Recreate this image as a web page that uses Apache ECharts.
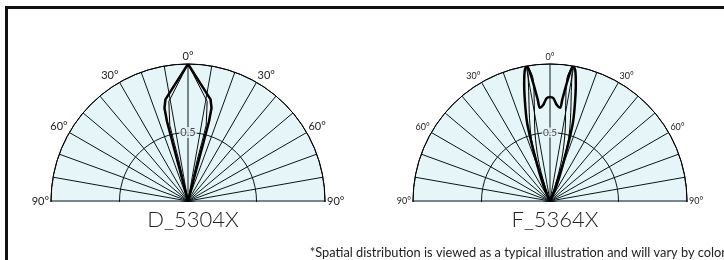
<!DOCTYPE html>
<html>
<head>
<meta charset="utf-8">
<script src="https://cdn.jsdelivr.net/npm/echarts@6/dist/echarts.min.js"></script>
<style>
  body { margin: 0; background: #fff; }
  #wrap { position: relative; width: 724px; height: 260px; }
  #frame { position: absolute; left: 5px; top: 6px; right: 0; bottom: 0; border-top: 3px solid #111; border-left: 3px solid #111; }
  #chart { position: absolute; left: 0; top: 0; width: 724px; height: 260px; }
</style>
</head>
<body>
<div id="wrap">
  <div id="frame"></div>
  <div id="chart"></div>
</div>
<script>
// 标签
const chartNames = ['D_5304X', 'F_5364X']
const ringLabel = '0.5'
const note = '*Spatial distribution is viewed as a typical illustration and will vary by color'

// D_5304X 粗线 / 细线 (角度, 相对强度)
const dThickAngle = [-15, -14.8, -14.2, -12.5, 0, 12.5, 14.2, 14.8, 15]
const dThickR = [0, 0.6, 0.7, 0.76, 1.0, 0.76, 0.7, 0.6, 0]
const dThinAngle = [-12, -12.7, -13.3, -13.5, -10.9, 0, 10.9, 13.5, 13.3, 12.7, 12]
const dThinR = [0, 0.31, 0.44, 0.57, 0.74, 1.0, 0.74, 0.57, 0.44, 0.31, 0]

// F_5364X 粗线 / 细线
const fThickAngle = [-25, -23.3, -18.9, -16.5, -14.8, -12.5, -11.0, -9.8, -9.0, -8.0, -6.9, -6.2, -4.1, -1.9, 0,
  1.9, 4.1, 6.2, 6.9, 8.0, 9.0, 9.8, 11.0, 12.5, 14.8, 16.5, 18.9, 23.3, 25]
const fThickR = [0, 0.116, 0.323, 0.578, 0.702, 0.871, 0.968, 1.0, 0.962, 0.858, 0.745, 0.684, 0.702, 0.75, 0.76,
  0.75, 0.702, 0.684, 0.745, 0.858, 0.962, 1.0, 0.968, 0.871, 0.702, 0.578, 0.323, 0.116, 0]
const fThinAngle = [-18.4, -18.4, -18.4, -16.7, -14.0, -11.0, -9.8, -9.5, -7.9, -9.3, -12.4, -15.8, -18.4, 0,
  18.4, 15.8, 12.4, 9.3, 7.9, 9.5, 9.8, 11.0, 14.0, 16.7, 18.4, 18.4, 18.4]
const fThinR = [0, 0.158, 0.316, 0.47, 0.618, 0.815, 0.944, 1.0, 0.909, 0.709, 0.512, 0.312, 0.126, 0,
  0.126, 0.312, 0.512, 0.709, 0.909, 1.0, 0.944, 0.815, 0.618, 0.47, 0.316, 0.158, 0]

// 半透明填充, 让网格线透出来
const fill = 'rgba(47,172,197,0.12)'
const labelBg = '#e6f5f8'
const centers = [[188, 201], [550, 201]]
const R = 137
const labelSizes = [11, 9]

const chart = echarts.init(document.getElementById('chart'))

const pairs = (rs, as) => rs.map((r, i) => [r, as[i]])

const angleAxis = (i) => ({
    polarIndex: i,
    type: 'value',
    min: -180,
    max: 180,
    interval: 10,
    startAngle: 270,
    clockwise: true,
    axisLine: { show: true, lineStyle: { color: '#000', width: 1 } },
    axisTick: { show: false },
    axisLabel: {
        margin: 2,
        fontSize: labelSizes[i],
        fontFamily: 'Lato',
        color: '#222',
        formatter: v => (Math.abs(v) % 30 === 0 && Math.abs(v) <= 90 ? Math.abs(v) + '°' : '')
    },
    splitLine: { show: true, lineStyle: { color: '#000', width: 1 } },
    splitArea: { show: true, areaStyle: { color: [fill] } }
})

const radiusAxis = (i) => ({
    polarIndex: i,
    type: 'value',
    min: 0,
    max: 1,
    interval: 0.5,
    axisLine: { show: false },
    axisTick: { show: false },
    axisLabel: { show: false },
    splitLine: { show: true, lineStyle: { color: '#000', width: 1 } }
})

const line = (i, data, w) => ({
    type: 'line',
    coordinateSystem: 'polar',
    polarIndex: i,
    data: data,
    symbol: 'none',
    smooth: i === 1 ? 0.3 : false,
    lineStyle: { color: '#000', width: w },
    z: 5
})

const ring = (i) => ({
    type: 'scatter',
    coordinateSystem: 'polar',
    polarIndex: i,
    symbolSize: 1,
    itemStyle: { color: 'rgba(0,0,0,0)' },
    data: [[0.5, 0]],
    label: {
        show: true,
        position: 'inside',
        formatter: ringLabel,
        fontSize: i === 0 ? 11 : 10,
        fontFamily: 'Lato',
        color: '#222',
        backgroundColor: labelBg,
        padding: [0, 1]
    },
    z: 6
})

const option = {
    animation: false,
    title: [
        ...chartNames.map((n, i) => ({
            text: n,
            left: centers[i][0],
            top: 204,
            textAlign: 'center',
            textStyle: { fontSize: 22, fontWeight: 300, fontFamily: 'Lato', color: '#222' }
        })),
        {
            text: note,
            left: 721,
            top: 241,
            textAlign: 'right',
            textStyle: { fontSize: 12.8, fontWeight: 'normal', fontFamily: 'Lato', color: '#222' }
        }
    ],
    // 下半圆用白色遮住 (只盖圆的范围, 不挡 90° 标签)
    graphic: centers.map(c => ({
        type: 'rect',
        shape: { x: c[0] - R - 1, y: c[1] + 1, width: 2 * R + 2, height: 80 },
        style: { fill: '#fff' },
        z: 4
    })),
    polar: centers.map(c => ({ center: c, radius: R })),
    angleAxis: [angleAxis(0), angleAxis(1)],
    radiusAxis: [radiusAxis(0), radiusAxis(1)],
    series: [
        line(0, pairs(dThickR, dThickAngle), 2.5),
        line(0, pairs(dThinR, dThinAngle), 1),
        line(1, pairs(fThickR, fThickAngle), 2.5),
        line(1, pairs(fThinR, fThinAngle), 1),
        ring(0),
        ring(1)
    ]
}

chart.setOption(option)
</script>
</body>
</html>
